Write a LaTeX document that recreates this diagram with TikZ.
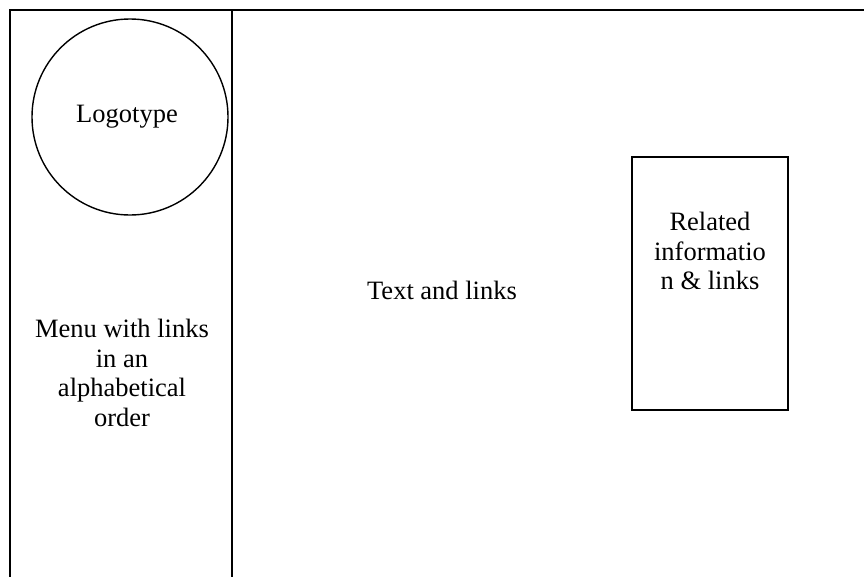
\documentclass[tikz,border=0pt]{standalone}
\usepackage{fontspec}
\setmainfont{Liberation Serif}
\usetikzlibrary{positioning}
\tikzset{page-line/.style={line width=1.4pt}}
\tikzset{page-box/.style={draw, line width=1.4pt, inner sep=0}}
\tikzset{page-text/.style={align=center, font=\fontsize{26.5}{29.5}\selectfont}}

\begin{document}
\begin{tikzpicture}[x=1pt, y=-1pt]
            \useasboundingbox (0,0) rectangle (864,576);
            \clip (0,0) rectangle (864,576);

            \draw[page-line] (10,10) rectangle (880,590);
            \draw[page-line] (232,10) -- (232,590);

            \node[page-box, circle, minimum size=196pt] (logo) at (130,117) {};
            \node[page-text] (logotext) at (127,117) {Logotype};

            \node[page-box, minimum width=156pt, minimum height=253pt] (related) at (710,283.5) {};
            \node[page-text] (relatedtext) at (710,251) {Related\\informatio\\n \& links};

            \node[page-text] (main) at (442,290) {Text and links};
            \node[page-text] (menu) at (122,373) {Menu with links\\in an\\alphabetical\\order};

        \end{tikzpicture}
\end{document}
